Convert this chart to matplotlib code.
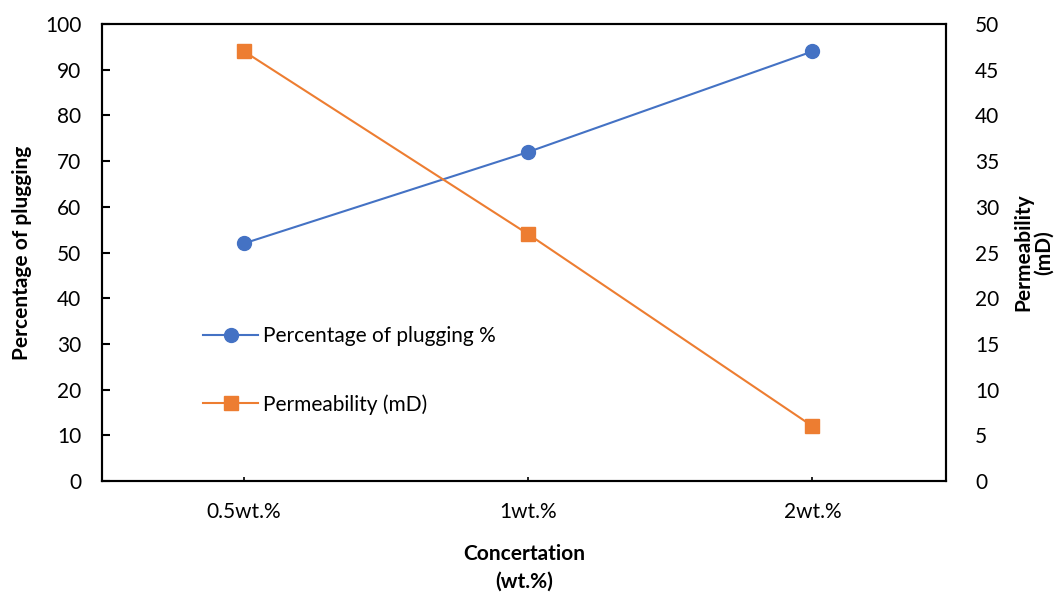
import matplotlib
matplotlib.use("Agg")
import matplotlib.pyplot as plt

# concentrations and measured values
concentrations = ["0.5wt.%", "1wt.%", "2wt.%"]
plugging_pct = [52, 72, 94]
permeability_md = [47, 27, 6]

plt.rcParams['font.family'] = ['Lato', 'DejaVu Sans']
fs = 15

fig = plt.figure(figsize=(10.64, 5.94), dpi=100)
ax = fig.add_axes([0.0959, 0.1902, 0.7932, 0.7694])
ax2 = ax.twinx()

x = list(range(len(concentrations)))
l1, = ax.plot(x, plugging_pct, color="#4472C4", lw=1.5, marker="o",
              markersize=10, label="Percentage of plugging %", zorder=3)
l2, = ax2.plot(x, permeability_md, color="#ED7D31", lw=1.5, marker="s",
               markersize=10, label="Permeability (mD)", zorder=3)

ax.set_xlim(-0.5, 2.47)
ax.set_ylim(0, 100)
ax2.set_ylim(0, 50)
ax.set_yticks(range(0, 101, 10))
ax2.set_yticks(range(0, 51, 5))
ax.set_xticks(x)
ax.set_xticklabels(concentrations)

for a in (ax, ax2):
    for s in a.spines.values():
        s.set_linewidth(1.5)
        s.set_color("black")

ax.tick_params(axis="y", direction="in", length=6, width=1.5, pad=15, labelsize=fs)
ax.tick_params(axis="x", direction="in", length=3, width=1.2, pad=15, labelsize=fs)
ax2.tick_params(axis="y", direction="in", length=0, pad=21, labelsize=fs)

ax.set_ylabel("Percentage of plugging", fontsize=fs, fontweight="bold", labelpad=9)
ax2.set_ylabel("Permeability\n(mD)", fontsize=fs, fontweight="bold", labelpad=10,
               linespacing=1.05)
ax.set_xlabel("Concertation\n(wt.%)", fontsize=fs, fontweight="bold", labelpad=16,
              linespacing=1.45)

ax.legend(handles=[l1, l2], frameon=False, fontsize=fs, labelspacing=2.3,
          handlelength=2.6, handletextpad=0.25, loc="upper left",
          bbox_to_anchor=(0.098, 0.38))

fig.savefig("out.png", dpi=100)
